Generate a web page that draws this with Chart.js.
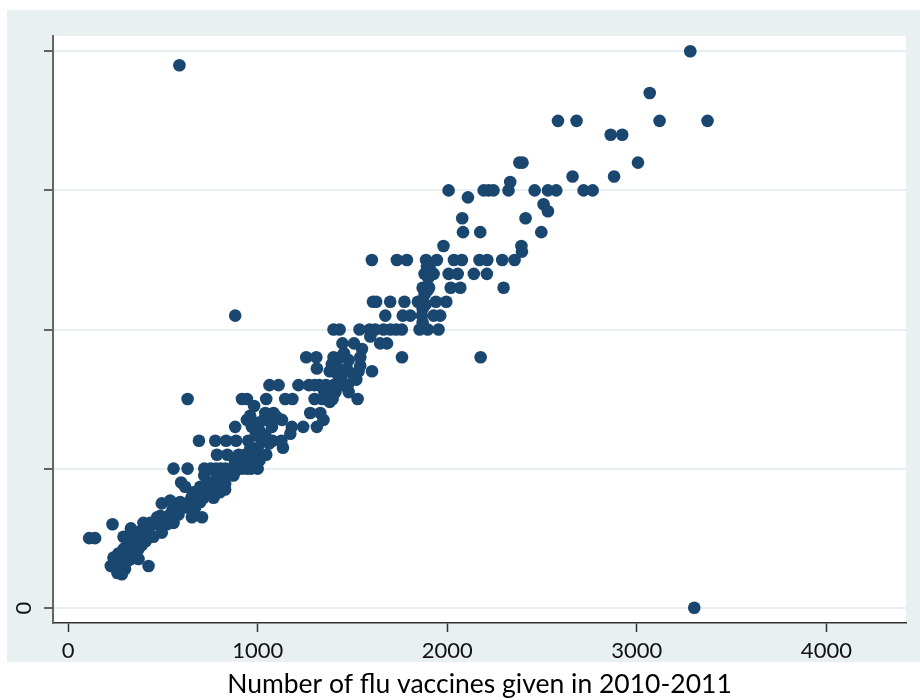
<!DOCTYPE html>
<html>
<head>
<meta charset="utf-8">
<script src="https://cdn.jsdelivr.net/npm/chart.js@4.4.1/dist/chart.umd.min.js"></script>
<style>
  html, body { margin: 0; padding: 0; background: #fff; }
  #wrap { width: 920px; height: 700px; }
</style>
</head>
<body>
<div id="wrap"><canvas id="scatter" width="920" height="700"></canvas></div>
<script>
// flu vaccines given 2010-2011 (x) and the matching y value
const vaccinesGiven = [
  587, 3282, 3303, 3068, 2584, 2682, 3120, 3373, 2862, 2923, 2380, 2397, 3006, 2661, 2880,
  2007, 2192, 2218, 2244, 2323, 2461, 2531, 2575, 2719, 2767, 2332, 2109, 2508, 2531, 2079, 2413, 2083, 2174, 2496, 1980, 2391, 2394,
  1602, 1734, 1787, 1888, 1945, 2035, 2077, 2170, 2211, 2290, 2355, 1893,
  1880, 1928, 2007, 2055, 2140, 2209, 1870, 1904, 2018, 2069, 2297,
  1608, 1625, 1699, 1774, 1845, 1940, 1995, 1880, 1870, 1885, 1895, 1900, 1910,
  881, 1673, 1765, 1805, 1866, 1928, 1963, 1870,
  1400, 1432, 1537, 1590, 1620, 1664, 1700, 1730, 1760, 1854, 1897, 1954,
  1594, 1646, 1682, 1447, 1508, 1550, 1256, 1309, 1400, 1435, 1541, 1761, 2176,
  1391, 1418, 1541, 1312, 1603, 1453, 1532, 1440, 1470, 1500, 1480, 1520, 1455, 1380, 1420, 1350, 1410, 1480, 1380,
  1062, 1110, 1215, 1270, 1300, 1325, 1360, 1400, 1418, 1444, 1475,
  630, 917, 943, 1045, 1145, 1183, 1300, 1340, 1356, 1395, 1527, 981,
  1040, 1083, 1277, 1330, 943, 1031, 1128, 1347, 1049, 1101,
  881, 969, 1075, 1180, 1240, 1312, 1172, 1133,
  690, 776, 833, 886, 950, 1022, 1078, 1125,
  785, 840, 900, 934, 987,
  556, 630, 718, 752, 780, 805, 830, 862, 890, 917, 943, 965, 1000,
  960, 1000, 1010, 1040, 990, 1060, 1000, 960, 1045, 1010, 960, 880, 920, 880, 840, 800, 760, 730, 700, 740, 800,
  650, 610, 550, 520, 470, 430, 380, 350, 320, 300, 370, 410, 330, 290, 300, 260,
  718, 785, 872, 828, 596, 617, 697, 767, 828, 661, 714, 767,
  494, 538, 591, 644, 697, 574, 626, 670, 486, 529, 582, 653, 706,
  397, 433, 468, 521, 556, 494, 234, 331, 292, 354, 406, 450, 111, 142,
  292, 345, 389, 327, 265, 239, 231, 283, 371, 424, 318, 257, 278, 225
];
const yValues = [
  39, 40, 0, 37, 35, 35, 35, 35, 34, 34, 32, 32, 32, 31, 31,
  30, 30, 30, 30, 30, 30, 30, 30, 30, 30, 30.6, 29.5, 29, 28.5, 28, 28, 27, 27, 27, 26, 26, 25.6,
  25, 25, 25, 25, 25, 25, 25, 25, 25, 25, 25, 24.5,
  24, 24, 24, 24, 24, 24, 23, 23, 23, 23, 23,
  22, 22, 22, 22, 22, 22, 22, 22.5, 21.5, 21.8, 22.8, 23.7, 24.3,
  21, 21, 21, 21, 21, 21, 21, 20.5,
  20, 20, 20, 20, 20, 20, 20, 20, 20, 20, 20, 20,
  19.5, 19, 19, 19, 19, 18.6, 18, 18, 18, 18, 18, 18, 18,
  17.5, 17.3, 17.4, 17.2, 17, 17, 17, 16.5, 17.2, 16.8, 17.8, 16.4, 18.3, 17, 16.8, 15.6, 15.5, 15.5, 14.8,
  16, 16, 16, 16, 16, 16, 16, 16, 16, 16, 16,
  15, 15, 15, 15, 15, 15, 15, 15, 15, 15, 15, 14.5,
  14, 14, 14, 14, 13.5, 13.5, 13.5, 13.5, 13.7, 13.7,
  13, 13, 13, 13, 13, 13, 12.5, 11.5,
  12, 12, 12, 12, 12, 12, 12, 12,
  11, 11, 11, 11, 11,
  10, 10, 10, 10, 10, 10, 10, 10, 10, 10, 10, 10, 10,
  13.8, 13.3, 12.7, 12.4, 12.4, 11.8, 11.5, 11.4, 11, 10.6, 10.5, 10.5, 10.3, 9.8, 9.6, 9, 9, 8.8, 8.2, 8.2, 8.3,
  7.9, 7.4, 7.0, 6.5, 6.5, 5.8, 5.5, 4.8, 4.8, 4.3, 4.2, 4.8, 3.5, 3.2, 2.8, 2.5,
  9.5, 9.4, 9.5, 8.9, 9, 8.7, 8.7, 8.4, 8.5, 8.3, 7.9, 7.9,
  7.5, 7.7, 7.6, 7.6, 7.6, 7.1, 7.2, 7.2, 6.6, 6.6, 6.7, 6.5, 6.5,
  6.1, 6.1, 6, 6, 6.1, 5.4, 6, 5.7, 5.1, 5.1, 5.3, 5.1, 5, 5,
  4.2, 4.5, 4.5, 3.9, 3.9, 3.6, 3, 2.4, 3.5, 3, 3.4, 3.3, 2.5, 3
];
const xTicks = [0, 1000, 2000, 3000, 4000];
const yTicks = [0, 10, 20, 30, 40];

const points = vaccinesGiven.map((x, i) => ({ x: x, y: yValues[i] }));

// graph region band + white plot region, Stata style
const background = {
  id: 'background',
  beforeDraw(chart) {
    const ctx = chart.ctx;
    const a = chart.chartArea;
    ctx.save();
    ctx.fillStyle = '#ffffff';
    ctx.fillRect(0, 0, chart.width, chart.height);
    ctx.fillStyle = '#e8f0f2';
    ctx.fillRect(7, 10, chart.width - 7, 652);
    ctx.fillStyle = '#ffffff';
    ctx.fillRect(a.left, a.top, a.right - a.left, a.bottom - a.top);
    ctx.restore();
  }
};

Chart.defaults.font.family = 'Lato, "Open Sans", sans-serif';

new Chart(document.getElementById('scatter').getContext('2d'), {
  type: 'scatter',
  data: {
    datasets: [{
      data: points,
      backgroundColor: '#1a476f',
      borderColor: '#1a476f',
      borderWidth: 0,
      pointRadius: 6.3,
      pointHoverRadius: 6.3
    }]
  },
  plugins: [background],
  options: {
    responsive: false,
    animation: false,
    layout: { padding: { left: 0, top: 36, right: 14, bottom: 0 } },
    plugins: {
      legend: { display: false },
      tooltip: { enabled: false }
    },
    scales: {
      x: {
        type: 'linear',
        min: -80,
        max: 4420,
        afterBuildTicks: s => { s.ticks = xTicks.map(v => ({ value: v })); },
        afterFit: s => { s.height = 77; },
        grid: { drawOnChartArea: false, tickLength: 9, tickColor: '#333', tickWidth: 1.5 },
        border: { color: '#333', width: 1.5 },
        ticks: {
          padding: 6,
          color: '#111',
          maxRotation: 0,
          font: { size: 22 },
          callback: v => String(v)
        },
        title: {
          display: true,
          text: 'Number of flu vaccines given in 2010-2011',
          color: '#000',
          font: { size: 26.5 },
          padding: { top: 0, bottom: 0 }
        }
      },
      y: {
        type: 'linear',
        min: -1.1,
        max: 41.1,
        afterBuildTicks: s => { s.ticks = yTicks.map(v => ({ value: v })); },
        afterFit: s => { s.width = 53; },
        grid: { color: '#e8eff2', lineWidth: 2, tickLength: 9, tickColor: '#333', tickWidth: 1.5 },
        border: { color: '#666', width: 2 },
        ticks: {
          padding: 20,
          minRotation: 90,
          maxRotation: 90,
          labelOffset: -6,
          color: '#111',
          font: { size: 22 },
          callback: v => (v === 0 ? '0' : '')
        }
      }
    }
  }
});
</script>
</body>
</html>
